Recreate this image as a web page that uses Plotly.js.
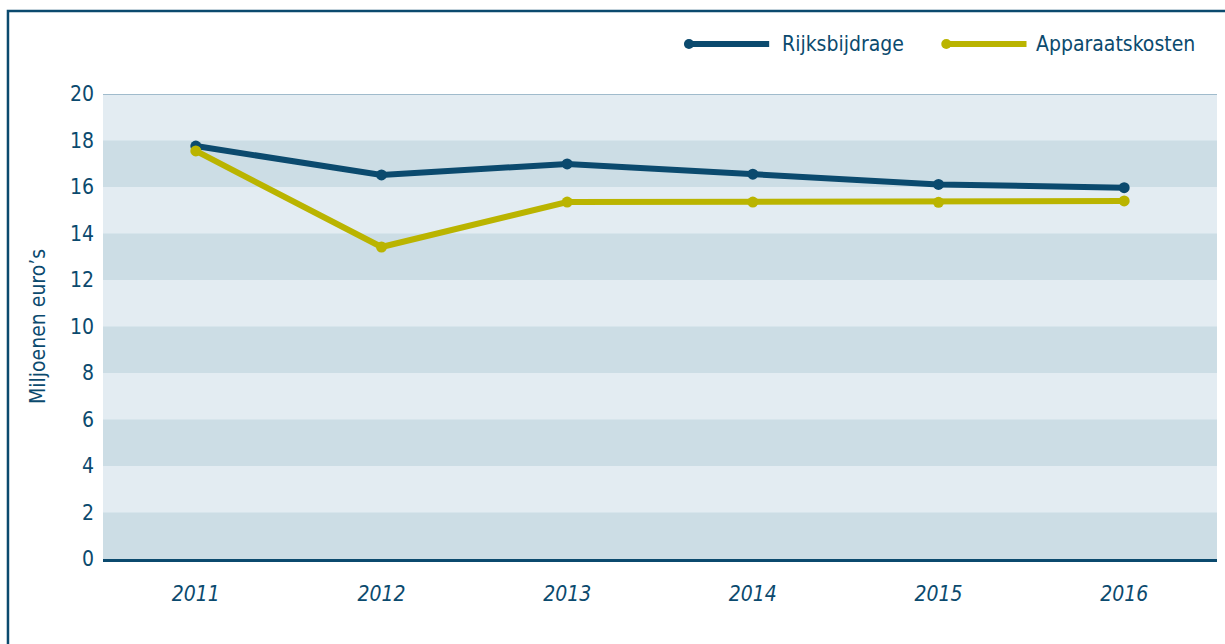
<!DOCTYPE html>
<html>
<head>
<meta charset="utf-8">
<script src="https://cdn.plot.ly/plotly-3.0.1.min.js"></script>
<style>
html,body{margin:0;padding:0;background:#fff;}
#chart{width:1225px;height:644px;}
</style>
</head>
<body>
<div id="chart"></div>
<script>
const years = ['2011','2012','2013','2014','2015','2016'];
const rijksbijdrage = [17.76, 16.52, 16.99, 16.55, 16.11, 15.97];
const apparaatskosten = [17.55, 13.42, 15.35, 15.35, 15.34, 15.40];
const yTicks = [0,2,4,6,8,10,12,14,16,18,20];
const seriesNames = ['Rijksbijdrage','Apparaatskosten'];

const BLUE = '#0b4a6e';
const YEL = '#bab400';
const LIGHT = '#e3ecf2';
const DARK = '#ccdde5';
const FONT = '"Liberation Sans Narrow", "DejaVu Sans Condensed", Roboto, sans-serif';

const traces = [
  {x: years, y: rijksbijdrage, name: seriesNames[0], type: 'scatter', mode: 'lines+markers',
   line: {color: BLUE, width: 6}, marker: {color: BLUE, size: 11}, showlegend: false},
  {x: years, y: apparaatskosten, name: seriesNames[1], type: 'scatter', mode: 'lines+markers',
   line: {color: YEL, width: 6}, marker: {color: YEL, size: 11}, showlegend: false}
];

const shapes = [];
for (let i = 0; i < yTicks.length - 1; i += 2) {
  shapes.push({type: 'rect', xref: 'paper', yref: 'y', x0: 0, x1: 1, y0: yTicks[i], y1: yTicks[i+1],
    fillcolor: DARK, line: {width: 0}, layer: 'below'});
}
// top thin line
shapes.push({type: 'line', xref: 'paper', yref: 'y', x0: 0, x1: 1, y0: 20, y1: 20,
  line: {color: '#5f8aa6', width: 1.2}, layer: 'above'});
// frame
shapes.push({type: 'rect', xref: 'paper', yref: 'paper', x0: -0.0853, x1: 1.05, y0: -0.5, y1: 1.1785,
  line: {color: BLUE, width: 2.5}, fillcolor: 'rgba(0,0,0,0)'});

// custom legend
const legendItems = [
  {name: seriesNames[0], color: BLUE, x0: 0.526, x1: 0.598, tx: 0.608},
  {name: seriesNames[1], color: YEL, x0: 0.757, x1: 0.829, tx: 0.836}
];
const legY = 1.1075;
const annotations = [];
legendItems.forEach(it => {
  shapes.push({type: 'line', xref: 'paper', yref: 'paper', x0: it.x0, x1: it.x1, y0: legY, y1: legY,
    line: {color: it.color, width: 6}});
  shapes.push({type: 'circle', xref: 'paper', yref: 'paper', x0: it.x0 - 0.0045, x1: it.x0 + 0.0045,
    y0: legY - 0.0108, y1: legY + 0.0108, fillcolor: it.color, line: {color: it.color, width: 0}});
  annotations.push({xref: 'paper', yref: 'paper', x: it.tx, y: legY, xanchor: 'left', yanchor: 'middle',
    text: it.name, showarrow: false, font: {family: FONT, size: 21, color: BLUE}});
});

const layout = {
  width: 1225, height: 644,
  margin: {l: 103, r: 8, t: 94, b: 85, pad: 0},
  paper_bgcolor: '#ffffff',
  plot_bgcolor: LIGHT,
  font: {family: FONT, color: BLUE, size: 21},
  showlegend: false,
  xaxis: {type: 'category', range: [-0.5, 5.5], showgrid: false, zeroline: false,
    showline: true, linecolor: BLUE, linewidth: 2.5, ticks: '',
    tickfont: {family: FONT, size: 21, color: BLUE, style: 'italic'}, ticklabelstandoff: 14,
    fixedrange: true},
  yaxis: {range: [0, 20], tickvals: yTicks, showgrid: false, zeroline: false, showline: false,
    ticks: '', tickfont: {family: FONT, size: 21, color: BLUE}, ticklabelstandoff: 8,
    title: {text: 'Miljoenen euro’s', font: {family: FONT, size: 21, color: BLUE}, standoff: 18},
    fixedrange: true},
  shapes: shapes,
  annotations: annotations
};

Plotly.newPlot('chart', traces, layout, {displayModeBar: false, staticPlot: true});
</script>
</body>
</html>
